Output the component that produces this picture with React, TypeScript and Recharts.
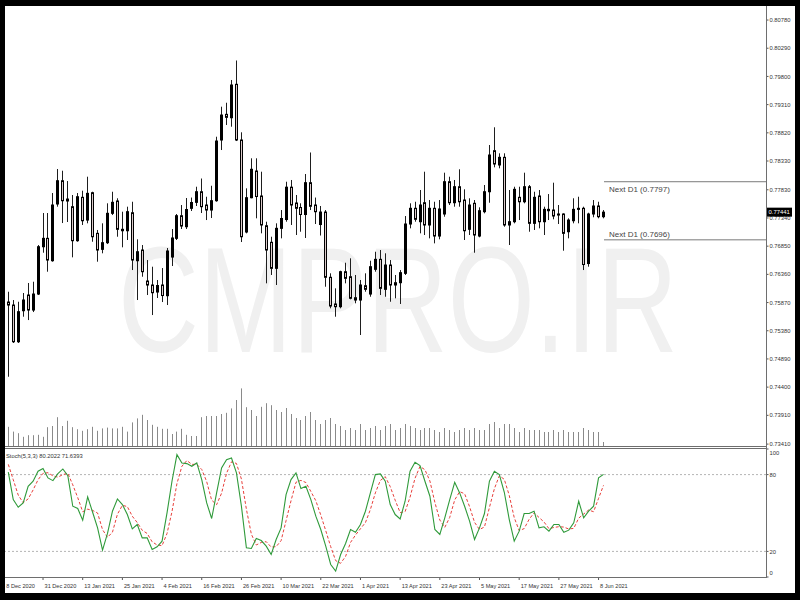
import { ComposedChart, Bar, XAxis, YAxis, ReferenceLine, LineChart, Line } from "recharts";

// AUDUSD daily, 121 bars (idx 0 .. 120)
const openP = [
  0.75879, 0.75827, 0.75189, 0.75728, 0.76001, 0.7574, 0.76018, 0.7684, 0.76986, 0.76597,
  0.77583, 0.77987, 0.77669, 0.77536, 0.76945, 0.77699, 0.77304, 0.77779, 0.77073, 0.76795,
  0.7691, 0.77421, 0.77635, 0.77143, 0.77118, 0.77431, 0.76597, 0.76783, 0.76244, 0.76175,
  0.76053, 0.76175, 0.75989, 0.76661, 0.76986, 0.77379, 0.77188, 0.77508, 0.77612, 0.77796,
  0.77565, 0.77478, 0.7764, 0.78695, 0.79141, 0.79082, 0.79663, 0.78695, 0.77096, 0.77692,
  0.78156, 0.77722, 0.77205, 0.76917, 0.76465, 0.7716, 0.77313, 0.77875, 0.776, 0.77522,
  0.774, 0.77953, 0.77565, 0.77226, 0.77443, 0.76309, 0.75845, 0.75798, 0.76406, 0.76319,
  0.75954, 0.75914, 0.76163, 0.76018, 0.76448, 0.76621, 0.761, 0.76522, 0.76215, 0.76215,
  0.76378, 0.77235, 0.77508, 0.77275, 0.77605, 0.77218, 0.77508, 0.77026, 0.77409, 0.7797,
  0.77605, 0.77883, 0.77652, 0.77143, 0.77595, 0.77026, 0.77449, 0.77796, 0.78509, 0.78261,
  0.78394, 0.77218, 0.77275, 0.77699, 0.77622, 0.77883, 0.77247, 0.77722, 0.77275, 0.7749,
  0.77478, 0.77409, 0.77409, 0.77101, 0.77292, 0.7749, 0.77508, 0.76548, 0.77409, 0.77548,
  0.77362,
];
const highP = [
  0.76058, 0.75914, 0.75884, 0.76036, 0.7621, 0.76232, 0.7687, 0.77426, 0.77426, 0.77774,
  0.78191, 0.78161, 0.77982, 0.77739, 0.77774, 0.77814, 0.78057, 0.77796, 0.77131, 0.77247,
  0.77595, 0.77796, 0.77682, 0.77449, 0.77536, 0.77622, 0.76969, 0.7687, 0.76609, 0.76493,
  0.76262, 0.7647, 0.76818, 0.77148, 0.77409, 0.77565, 0.77687, 0.77695, 0.77883, 0.78026,
  0.77709, 0.779, 0.78752, 0.79274, 0.79343, 0.79738, 0.80077, 0.78829, 0.77855, 0.78377,
  0.78377, 0.78144, 0.77275, 0.77014, 0.77247, 0.77478, 0.7797, 0.78, 0.77739, 0.77595,
  0.78104, 0.78478, 0.77695, 0.77548, 0.77478, 0.76378, 0.76117, 0.76423, 0.76562, 0.76639,
  0.76349, 0.76262, 0.76378, 0.76597, 0.76753, 0.76783, 0.76726, 0.76609, 0.76349, 0.76435,
  0.77374, 0.77595, 0.77622, 0.77826, 0.78144, 0.77652, 0.77622, 0.77652, 0.78127, 0.78057,
  0.78, 0.78186, 0.77838, 0.77682, 0.77652, 0.77525, 0.77913, 0.78608, 0.78916, 0.78464,
  0.78464, 0.77826, 0.77883, 0.77883, 0.78127, 0.77913, 0.77796, 0.77826, 0.77536, 0.77756,
  0.77953, 0.77565, 0.77421, 0.77334, 0.77682, 0.77709, 0.77536, 0.77431, 0.77652, 0.77622,
  0.77478,
];
const lowP = [
  0.74581, 0.75167, 0.75167, 0.75624, 0.75566, 0.75705, 0.76001, 0.76736, 0.76406, 0.7658,
  0.77536, 0.77252, 0.7727, 0.76656, 0.76927, 0.77218, 0.77247, 0.76927, 0.7658, 0.76726,
  0.76887, 0.77391, 0.77014, 0.7683, 0.76957, 0.76435, 0.75914, 0.76319, 0.76001, 0.75653,
  0.75949, 0.75879, 0.75827, 0.76505, 0.76957, 0.77148, 0.77148, 0.77461, 0.77548, 0.77426,
  0.77304, 0.77339, 0.77622, 0.78521, 0.78956, 0.78926, 0.78677, 0.76922, 0.77073, 0.77682,
  0.77334, 0.77073, 0.76204, 0.76349, 0.76175, 0.76986, 0.77275, 0.77218, 0.77044, 0.77101,
  0.76992, 0.77478, 0.77235, 0.77035, 0.76145, 0.7577, 0.75624, 0.7577, 0.76204, 0.75926,
  0.75857, 0.75306, 0.76058, 0.75971, 0.76406, 0.76001, 0.75971, 0.75884, 0.75944, 0.75845,
  0.76349, 0.7716, 0.77275, 0.77073, 0.77044, 0.76986, 0.76899, 0.76969, 0.77362, 0.77565,
  0.77536, 0.77536, 0.76957, 0.77044, 0.76736, 0.77004, 0.77421, 0.77605, 0.7822, 0.78203,
  0.77188, 0.7687, 0.77247, 0.77304, 0.77595, 0.77101, 0.77131, 0.7716, 0.77044, 0.77304,
  0.77317, 0.77235, 0.76771, 0.76986, 0.77247, 0.77247, 0.76435, 0.76493, 0.77352, 0.77334,
  0.77334,
];
const closeP = [
  0.75827, 0.75189, 0.75711, 0.75914, 0.7574, 0.76018, 0.7684, 0.76986, 0.76609, 0.77565,
  0.77987, 0.7764, 0.77635, 0.76945, 0.77709, 0.77292, 0.77768, 0.77014, 0.76783, 0.7691,
  0.77421, 0.77612, 0.77143, 0.77118, 0.77449, 0.76609, 0.76753, 0.76406, 0.76175, 0.76041,
  0.76166, 0.75992, 0.76766, 0.76992, 0.77379, 0.772, 0.77487, 0.77609, 0.77796, 0.77536,
  0.77478, 0.7764, 0.78677, 0.79129, 0.79089, 0.79651, 0.78695, 0.77014, 0.77692, 0.78186,
  0.77713, 0.77218, 0.76783, 0.76465, 0.7716, 0.77331, 0.77875, 0.77565, 0.77508, 0.774,
  0.77953, 0.77543, 0.77449, 0.77443, 0.76309, 0.7581, 0.75798, 0.76406, 0.76291, 0.75944,
  0.75914, 0.76175, 0.761, 0.76493, 0.76621, 0.76117, 0.76522, 0.76175, 0.76175, 0.76389,
  0.77235, 0.77508, 0.77317, 0.77565, 0.77218, 0.77508, 0.77026, 0.77496, 0.7797, 0.77605,
  0.77883, 0.77622, 0.77118, 0.77565, 0.77044, 0.77466, 0.77796, 0.78434, 0.78278, 0.78394,
  0.77218, 0.77275, 0.77838, 0.77622, 0.77883, 0.77247, 0.77699, 0.77275, 0.7749, 0.77466,
  0.77374, 0.77391, 0.77073, 0.77304, 0.7749, 0.77508, 0.76531, 0.77409, 0.77548, 0.77362,
  0.77441,
];
const volume = [
  48000, 36000, 32000, 23000, 27000, 27000, 28000, 23000, 47000, 50000,
  72000, 50000, 63000, 47000, 42000, 38000, 42000, 48000, 38000, 44000,
  46000, 44000, 44000, 48000, 36000, 59000, 69000, 78000, 65000, 53000,
  48000, 43000, 43000, 30000, 36000, 43000, 28000, 25000, 25000, 72000,
  75000, 75000, 75000, 80000, 83000, 94000, 115000, 144000, 97000, 90000,
  75000, 98000, 107000, 102000, 90000, 85000, 95000, 80000, 70000, 65000,
  75000, 85000, 65000, 55000, 65000, 70000, 55000, 50000, 40000, 45000,
  40000, 55000, 40000, 45000, 50000, 40000, 50000, 55000, 40000, 45000,
  55000, 50000, 45000, 40000, 45000, 45000, 40000, 35000, 45000, 40000,
  35000, 40000, 45000, 40000, 45000, 40000, 40000, 55000, 60000, 45000,
  55000, 55000, 45000, 35000, 45000, 40000, 40000, 40000, 35000, 35000,
  40000, 35000, 40000, 35000, 35000, 35000, 45000, 40000, 35000, 35000,
  10000,
];
const stochK = [
  82, 60.5, 54.5, 57.9, 70.9, 74.8, 82.6, 84.7, 77.4, 75.3,
  80.8, 84.4, 79.2, 55.3, 53.5, 44.4, 62.6, 50.6, 38.4, 21,
  34, 51.4, 61, 56.6, 48.8, 37.6, 41, 30.6, 30.6, 21.5,
  23.6, 28, 50.1, 74.8, 95.6, 89.1, 88.6, 86.5, 89.1, 76.1,
  57.9, 45.7, 65.7, 85.2, 91.7, 93, 81.3, 55.3, 22.8, 22.3,
  30.1, 28.5, 24.1, 17.6, 29.3, 38.4, 64.4, 76.1, 81.3, 69.1,
  70.9, 60.5, 47.5, 37.1, 24.1, 9.8, 4.6, 17.6, 26.2, 37.1,
  35, 41, 51.4, 65.7, 80, 80.5, 74.8, 56.6, 48.8, 45.4,
  59.2, 82.6, 89.6, 87, 74.8, 63.1, 37.1, 33.2, 46.2, 60.5,
  74, 65.7, 55.3, 43.6, 29.3, 38.4, 49.6, 74.8, 82.6, 80,
  66.2, 44.9, 28, 35.8, 49.6, 49.6, 51.4, 38.4, 39.2, 35.8,
  41, 41, 35, 36.6, 42.3, 59.2, 46.2, 51.4, 55.3, 77.4,
  80.2,
];
const stochD = [
  88, 76, 64, 58, 61, 68, 76, 81, 81.5, 79,
  78, 80, 81, 72, 62, 51, 53, 52, 50, 37,
  31, 35, 49, 56, 55, 47.5, 42.5, 36.5, 34, 27.5,
  25, 24.5, 34, 51, 73, 86.5, 91, 88, 88, 84,
  74.5, 60, 56.5, 65.5, 81, 90, 88.7, 76.5, 53, 33.5,
  25, 27, 27.6, 23.4, 23.7, 28.4, 44, 59.6, 74, 75.5,
  73.8, 66.8, 59.6, 48.4, 36.2, 23.7, 12.8, 10.7, 16.1, 27,
  32.8, 37.7, 42.5, 52.7, 65.7, 75.4, 78.4, 70.6, 60, 50.3,
  51.1, 62.4, 77.1, 86.4, 83.8, 75, 58.3, 44.5, 38.8, 46.6,
  60.2, 66.7, 65, 54.9, 42.7, 37.1, 39.1, 54.3, 69, 79.1,
  76.3, 63.7, 46.4, 36.2, 37.8, 45, 50.2, 46.5, 43, 37.8,
  38.7, 39.3, 39, 37.5, 38, 46, 49.2, 52.3, 51, 61.4,
  71.6,
];

const priceTicks = [
  0.7341, 0.7391, 0.744, 0.7489, 0.7538, 0.7587, 0.7636, 0.7685,
  0.7734, 0.7783, 0.7833, 0.7882, 0.7931, 0.798, 0.8029, 0.8078,
];
const currentPrice = 0.77441;
const nextD1High = 0.7797;
const nextD1Low = 0.7696;
const stochTicks = [0, 20, 80, 100];
const dateTickIdx = [0, 7, 15, 23, 31, 39, 47, 55, 63, 71, 79, 87, 95, 103, 111, 119];
const dateTickLabels = [
  "8 Dec 2020", "31 Dec 2020", "13 Jan 2021", "25 Jan 2021", "4 Feb 2021", "16 Feb 2021",
  "26 Feb 2021", "10 Mar 2021", "22 Mar 2021", "1 Apr 2021", "13 Apr 2021", "23 Apr 2021",
  "5 May 2021", "17 May 2021", "27 May 2021", "8 Jun 2021",
];
const STOCH_TITLE = "Stoch(5,3,3) 80.2022 71.6393";

const rows = openP.map((o, i) => ({
  i,
  open: o,
  high: highP[i],
  low: lowP[i],
  close: closeP[i],
  vol: volume[i],
  k: stochK[i],
  d: stochD[i],
}));

const X_DOMAIN: [number, number] = [-0.665, 152.76];
const FONT = "Liberation Sans, Arial, sans-serif";
const GRID = "#6e6e6e";

const Candle = (props: any) => {
  const { x, y, width, height, payload } = props;
  if (!payload || !Number.isFinite(y) || !Number.isFinite(height)) return null;
  const { open, high, low, close } = payload;
  const cx = Math.floor(x + width / 2) + 0.5;
  const py = (v: number) => y + ((high - v) / (high - low)) * height;
  const top = py(Math.max(open, close));
  const bot = py(Math.min(open, close));
  const up = close > open;
  const bodyH = Math.max(bot - top, 1);
  return (
    <g>
      <line x1={cx} x2={cx} y1={y} y2={y + height} stroke="#1e1e1e" strokeWidth={1} />
      <rect
        x={cx - 1}
        y={top}
        width={2}
        height={bodyH}
        fill={up ? "#000" : "#dccbcb"}
        stroke="#000"
        strokeWidth={1}
      />
    </g>
  );
};

const VolumeStick = (props: any) => {
  const { x, y, width, height } = props;
  if (!Number.isFinite(y) || !Number.isFinite(height)) return null;
  const cx = Math.floor(x + width / 2) + 0.5;
  return <line x1={cx} x2={cx} y1={y} y2={y + height} stroke="#8a8a8a" strokeWidth={1} />;
};

const PriceTick = (props: any) => {
  const { x, y, payload } = props;
  const v: number = payload.value;
  if (v === currentPrice) {
    return (
      <g>
        <rect x={x + 1} y={y - 4.5} width={25} height={9} fill="#000" />
        <text x={x + 2.5} y={y + 2.2} fill="#fff" fontSize={5.9} fontFamily={FONT}>
          {v.toFixed(5)}
        </text>
      </g>
    );
  }
  return (
    <g>
      <line x1={x} x2={x + 2.5} y1={y} y2={y} stroke="#555" />
      <text x={x + 3.5} y={y + 2.1} fill="#333" fontSize={5.8} fontFamily={FONT}>
        {v.toFixed(5)}
      </text>
    </g>
  );
};

const StochTick = (props: any) => {
  const { x, y, payload } = props;
  const v: number = payload.value;
  const dy = v === 100 ? 5.5 : v === 0 ? -2.5 : 2.1;
  return (
    <g>
      <line x1={x} x2={x + 2.5} y1={y} y2={y} stroke="#555" />
      <text x={x + 3.5} y={y + dy} fill="#333" fontSize={5.8} fontFamily={FONT}>
        {v}
      </text>
    </g>
  );
};

const DateTick = (props: any) => {
  const { x, y, payload } = props;
  const n = dateTickIdx.indexOf(payload.value);
  const first = n === 0;
  return (
    <g>
      {!first && <line x1={x} x2={x} y1={y} y2={y + 3} stroke="#555" />}
      <text x={first ? x - 2 : x + 1.5} y={y + 11} fill="#333" fontSize={5.6} fontFamily={FONT}>
        {dateTickLabels[n]}
      </text>
    </g>
  );
};

const nextLabel = (text: string, below: boolean) => (props: any) => {
  const vb = props.viewBox || {};
  return (
    <text
      x={vb.x + 5}
      y={below ? vb.y + 10 : vb.y - 3}
      fill="#444"
      fontSize={8}
      fontFamily={FONT}
    >
      {text}
    </text>
  );
};

const App = () => {
  return (
    <div style={{ position: "absolute", left: 0, top: 0, width: 800, height: 600, background: "#000", overflow: "hidden" }}>
      <div style={{ position: "absolute", left: 5, top: 6, width: 790, height: 587, background: "#fff" }} />

      {/* watermark */}
      <svg width={800} height={600} style={{ position: "absolute", left: 0, top: 0 }}>
        <g transform="translate(118 352) scale(1 1.34)">
          <text x={0} y={0} fontSize={112} fontFamily={FONT} fill="#f0f0f0">
            CMPRO.IR
          </text>
        </g>
      </svg>

      {/* volume */}
      <div style={{ position: "absolute", left: 0, top: 0 }}>
        <ComposedChart width={800} height={600} data={rows} margin={{ top: 6, right: 34, bottom: 154, left: 5 }}>
          <XAxis type="number" dataKey="i" domain={X_DOMAIN} hide allowDataOverflow />
          <YAxis domain={[0, 1100000]} hide allowDataOverflow />
          <Bar dataKey="vol" barSize={3} shape={<VolumeStick />} isAnimationActive={false} />
        </ComposedChart>
      </div>

      {/* price */}
      <div style={{ position: "absolute", left: 0, top: 0 }}>
        <ComposedChart width={800} height={600} data={rows} margin={{ top: 6, right: 5, bottom: 154, left: 5 }}>
          <XAxis type="number" dataKey="i" domain={X_DOMAIN} hide allowDataOverflow />
          <YAxis
            orientation="right"
            width={29}
            domain={[0.73377, 0.81024]}
            allowDataOverflow
            ticks={[...priceTicks, currentPrice]}
            interval={0}
            axisLine={false}
            tickLine={false}
            tickSize={0}
            tickMargin={0}
            tick={<PriceTick />}
          />
          <Bar
            dataKey={(d: any) => [d.low, d.high]}
            barSize={3}
            shape={<Candle />}
            isAnimationActive={false}
          />
          <ReferenceLine
            segment={[{ x: 120.1, y: nextD1High }, { x: X_DOMAIN[1], y: nextD1High }]}
            stroke="#7a7a7a"
            strokeWidth={1}
            ifOverflow="visible"
            label={nextLabel(`Next D1 (${nextD1High})`, true)}
          />
          <ReferenceLine
            segment={[{ x: 120.1, y: nextD1Low }, { x: X_DOMAIN[1], y: nextD1Low }]}
            stroke="#7a7a7a"
            strokeWidth={1}
            ifOverflow="visible"
            label={nextLabel(`Next D1 (${nextD1Low})`, false)}
          />
        </ComposedChart>
      </div>

      {/* stochastic */}
      <div style={{ position: "absolute", left: 0, top: 0 }}>
        <LineChart width={800} height={600} data={rows} margin={{ top: 449, right: 5, bottom: 0, left: 5 }}>
          <XAxis
            type="number"
            dataKey="i"
            domain={X_DOMAIN}
            allowDataOverflow
            height={23}
            ticks={dateTickIdx}
            interval={0}
            axisLine={false}
            tickLine={false}
            tickSize={0}
            tickMargin={0}
            tick={<DateTick />}
          />
          <YAxis
            orientation="right"
            width={29}
            domain={[0, 100]}
            ticks={stochTicks}
            interval={0}
            axisLine={false}
            tickLine={false}
            tickSize={0}
            tickMargin={0}
            tick={<StochTick />}
          />
          <ReferenceLine y={80} stroke="#b4b4b4" strokeDasharray="2 2" />
          <ReferenceLine y={20} stroke="#b4b4b4" strokeDasharray="2 2" />
          <Line dataKey="d" type="linear" stroke="#e8403c" strokeWidth={1} strokeDasharray="3 2" dot={false} activeDot={false} isAnimationActive={false} />
          <Line dataKey="k" type="linear" stroke="#2f9a3a" strokeWidth={1.1} dot={false} activeDot={false} isAnimationActive={false} />
        </LineChart>
      </div>

      {/* frame lines and indicator title */}
      <svg width={800} height={600} style={{ position: "absolute", left: 0, top: 0, pointerEvents: "none" }}>
        <line x1={5} x2={766} y1={446.5} y2={446.5} stroke={GRID} />
        <line x1={5} x2={766} y1={448.5} y2={448.5} stroke={GRID} />
        <line x1={5} x2={766} y1={577.5} y2={577.5} stroke={GRID} />
        <line x1={766.5} x2={766.5} y1={6} y2={578} stroke={GRID} />
        <text x={6} y={458} fontSize={5.8} fill="#333" fontFamily={FONT}>
          {STOCH_TITLE}
        </text>
      </svg>
    </div>
  );
};

export default App;
